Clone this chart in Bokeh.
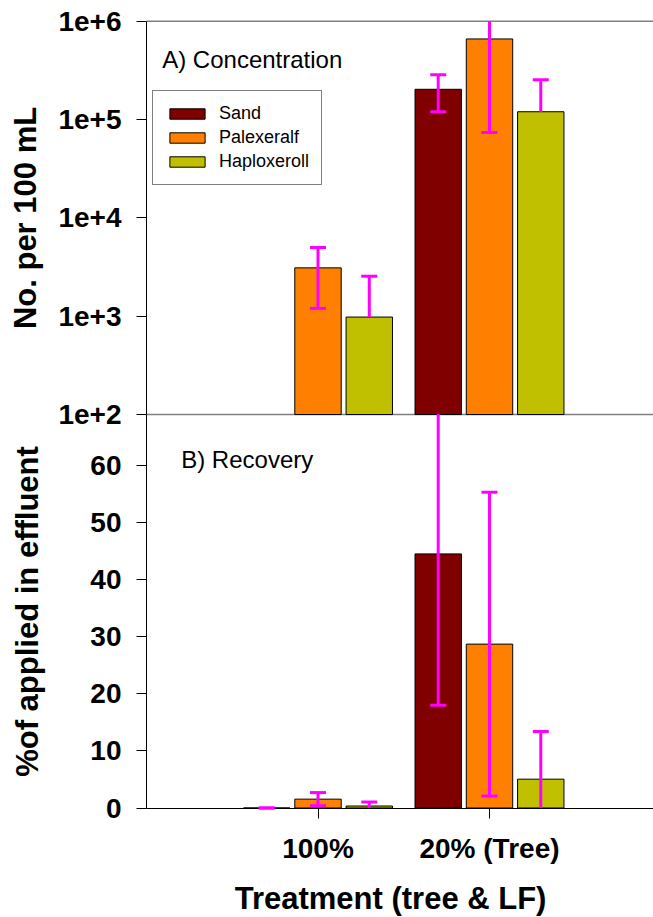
import numpy as np
from bokeh.plotting import figure
from bokeh.models import (Range1d, LogScale, LinearAxis, LogAxis, FixedTicker,
                          Legend, LegendItem, Label)
from bokeh.embed import file_html
from bokeh.resources import INLINE

# ---------------- data ----------------
categories = ["100%", "20% (Tree)"]
soils = ["Sand", "Palexeralf", "Haploxeroll"]
soil_colors = ["#800000", "#FF8000", "#C0C000"]

# A) Concentration (No. per 100 mL), mean and SD
conc_sand = [0, 203000]
conc_palexeralf = [3100, 660000]
conc_haploxeroll = [980, 120000]
conc_sd_sand = [0, 83000]
conc_sd_palexeralf = [1900, 586000]
conc_sd_haploxeroll = [1570, 134000]

# B) Recovery (% of applied in effluent), mean and SD
rec_sand = [0.0, 44.5]
rec_palexeralf = [1.55, 28.7]
rec_haploxeroll = [0.35, 5.05]
rec_sd_sand = [0.0, 26.5]
rec_sd_palexeralf = [1.15, 26.6]
rec_sd_haploxeroll = [0.7, 8.35]

conc_ticks = [100, 1000, 10000, 100000, 1000000]
conc_tick_labels = ["1e+2", "1e+3", "1e+4", "1e+5", "1e+6"]
rec_ticks = [0, 10, 20, 30, 40, 50, 60]

CONC_MIN, CONC_MAX = 1e2, 1e6
REC_MAX = 69
X_MAX = 3.0

conc_means = [conc_sand, conc_palexeralf, conc_haploxeroll]
conc_sds = [conc_sd_sand, conc_sd_palexeralf, conc_sd_haploxeroll]
rec_means = [rec_sand, rec_palexeralf, rec_haploxeroll]
rec_sds = [rec_sd_sand, rec_sd_palexeralf, rec_sd_haploxeroll]

# ---------------- layout (pixels) ----------------
W, H = 653, 917
X_ORIGIN_PX = 146.0      # where x = 0 (the y axes) sits
PX_PER_GROUP = 171.5
REC_ZERO_PX = 807.5      # where recovery = 0 sits (from top)
PX_PER_REC = 5.71
CONC_TOP_PX = 20.7       # where 1e6 sits (from top)
PX_PER_DECADE = 98.33

x_rng = Range1d(-X_ORIGIN_PX / PX_PER_GROUP, (W - X_ORIGIN_PX) / PX_PER_GROUP)
rec_rng = Range1d(-(H - REC_ZERO_PX) / PX_PER_REC, REC_ZERO_PX / PX_PER_REC)
top_dec = np.log10(CONC_MAX)
conc_rng = Range1d(10 ** (top_dec - (H - CONC_TOP_PX) / PX_PER_DECADE),
                   10 ** (top_dec + CONC_TOP_PX / PX_PER_DECADE))

FONT = "Liberation Sans"
MAGENTA = "#FF00FF"
group_pos = np.arange(len(categories)) + 1.0
bar_offsets = [-0.299, 0.0, 0.299]
bar_width = 0.2706

p = figure(frame_width=W, frame_height=H, min_border=0,
           x_range=x_rng, y_range=rec_rng,
           x_axis_location=None, y_axis_location=None,
           output_backend="svg", toolbar_location=None,
           background_fill_color="white", border_fill_color="white",
           outline_line_color=None)
p.grid.visible = False
p.extra_y_ranges = {"conc": conc_rng}
p.extra_y_scales = {"conc": LogScale()}

# ---------------- axes ----------------
def style_axis(ax, standoff, label_size):
    ax.axis_line_color = "black"
    ax.axis_line_width = 1
    ax.major_tick_out = 10
    ax.major_tick_in = 0
    ax.major_tick_line_color = "black"
    ax.minor_tick_line_color = None
    ax.major_label_text_font = FONT
    ax.major_label_text_font_style = "bold"
    ax.major_label_text_font_size = "28px"
    ax.major_label_text_color = "black"
    ax.axis_label_text_font = FONT
    ax.axis_label_text_font_style = "bold"
    ax.axis_label_text_font_size = label_size
    ax.axis_label_text_color = "black"
    ax.axis_label_standoff = standoff

conc_axis = LogAxis(y_range_name="conc", fixed_location=0, bounds=(CONC_MIN, CONC_MAX),
                    ticker=FixedTicker(ticks=conc_ticks, minor_ticks=[]),
                    major_label_overrides={int(t): l for t, l in zip(conc_ticks, conc_tick_labels)},
                    axis_label="No. per 100 mL")
style_axis(conc_axis, 12, "31px")
conc_axis.major_label_standoff = 15
p.add_layout(conc_axis, "left")

rec_axis = LinearAxis(fixed_location=0, bounds=(0, REC_MAX),
                      ticker=FixedTicker(ticks=rec_ticks, minor_ticks=[]),
                      axis_label="%of applied in effluent")
style_axis(rec_axis, 42, "31px")
rec_axis.major_label_standoff = 15
p.add_layout(rec_axis, "left")

x_axis = LinearAxis(fixed_location=0, bounds=(0, X_MAX),
                    ticker=FixedTicker(ticks=list(group_pos), minor_ticks=[]),
                    major_label_overrides={int(g): c for g, c in zip(group_pos, categories)})
style_axis(x_axis, 10, "31px")
x_axis.major_label_standoff = 15
x_axis.level = "underlay"
p.add_layout(x_axis, "below")

# x axis title (centred like the original)
p.add_layout(Label(x=1.423, y=-15.85, text="Treatment (tree & LF)", text_align="center",
                   text_baseline="middle", text_font=FONT, text_font_style="bold",
                   text_font_size="31px", text_color="black"))

# frame lines at 1e+6 and at the panel boundary (1e+2)
p.segment(x0=[0, 0], y0=[CONC_MAX, CONC_MIN], x1=[X_MAX, X_MAX], y1=[CONC_MAX, CONC_MIN],
          y_range_name="conc", line_color="#808080", line_width=1.5, level="underlay")

# ---------------- bars ----------------
legend_items = []
for k, soil in enumerate(soils):
    xs = group_pos + bar_offsets[k]
    cm = np.array(conc_means[k], dtype=float)
    ok = cm > 0
    r = p.vbar(x=xs[ok], top=cm[ok], bottom=CONC_MIN, width=bar_width, y_range_name="conc",
               fill_color=soil_colors[k], line_color="black", line_width=1)
    legend_items.append(LegendItem(label=soil, renderers=[r]))
    rm = np.array(rec_means[k], dtype=float)
    p.vbar(x=xs, top=rm, bottom=0, width=bar_width,
           fill_color=soil_colors[k], line_color="black", line_width=1)

# ---------------- error bars ----------------
for k, soil in enumerate(soils):
    xs = group_pos + bar_offsets[k]
    cm = np.array(conc_means[k], dtype=float)
    cs = np.array(conc_sds[k], dtype=float)
    ok = cm > 0
    up = cm + cs
    lo = cm - cs
    lo_line = np.where(lo > CONC_MIN, lo, cm)
    up_line = np.minimum(up, CONC_MAX)
    p.segment(x0=xs[ok], y0=lo_line[ok], x1=xs[ok], y1=up_line[ok], y_range_name="conc",
              line_color=MAGENTA, line_width=3)
    capu = ok & (up <= CONC_MAX)
    p.scatter(x=xs[capu], y=up[capu], marker="dash", size=16, y_range_name="conc",
              line_color=MAGENTA, line_width=3)
    capl = ok & (lo > CONC_MIN)
    p.scatter(x=xs[capl], y=lo[capl], marker="dash", size=16, y_range_name="conc",
              line_color=MAGENTA, line_width=3)

    rm = np.array(rec_means[k], dtype=float)
    rs = np.array(rec_sds[k], dtype=float)
    up = rm + rs
    lo = rm - rs
    p.segment(x0=xs, y0=np.maximum(lo, 0), x1=xs, y1=np.minimum(up, REC_MAX),
              line_color=MAGENTA, line_width=3)
    capu = up <= REC_MAX
    p.scatter(x=xs[capu], y=up[capu], marker="dash", size=16, line_color=MAGENTA, line_width=3)
    capl = lo >= 0
    p.scatter(x=xs[capl], y=lo[capl], marker="dash", size=16, line_color=MAGENTA, line_width=3)

# ---------------- legend & panel titles ----------------
legend = Legend(items=legend_items, location=(152, 732),
                glyph_width=44, glyph_height=13, label_height=20, label_standoff=10,
                spacing=3, padding=12, margin=0,
                label_text_font=FONT, label_text_font_size="18px", label_text_color="black",
                border_line_color="black", border_line_width=1,
                background_fill_color="white", background_fill_alpha=1)
p.add_layout(legend)

p.add_layout(Label(x=0.0915, y=10 ** 5.61, y_range_name="conc", text="A) Concentration",
                   text_font=FONT, text_font_size="24px", text_baseline="middle",
                   text_color="black"))
p.add_layout(Label(x=0.2023, y=61.1, text="B) Recovery",
                   text_font=FONT, text_font_size="24px", text_baseline="middle",
                   text_color="black"))

open("out.html", "w").write(file_html(p, INLINE))
